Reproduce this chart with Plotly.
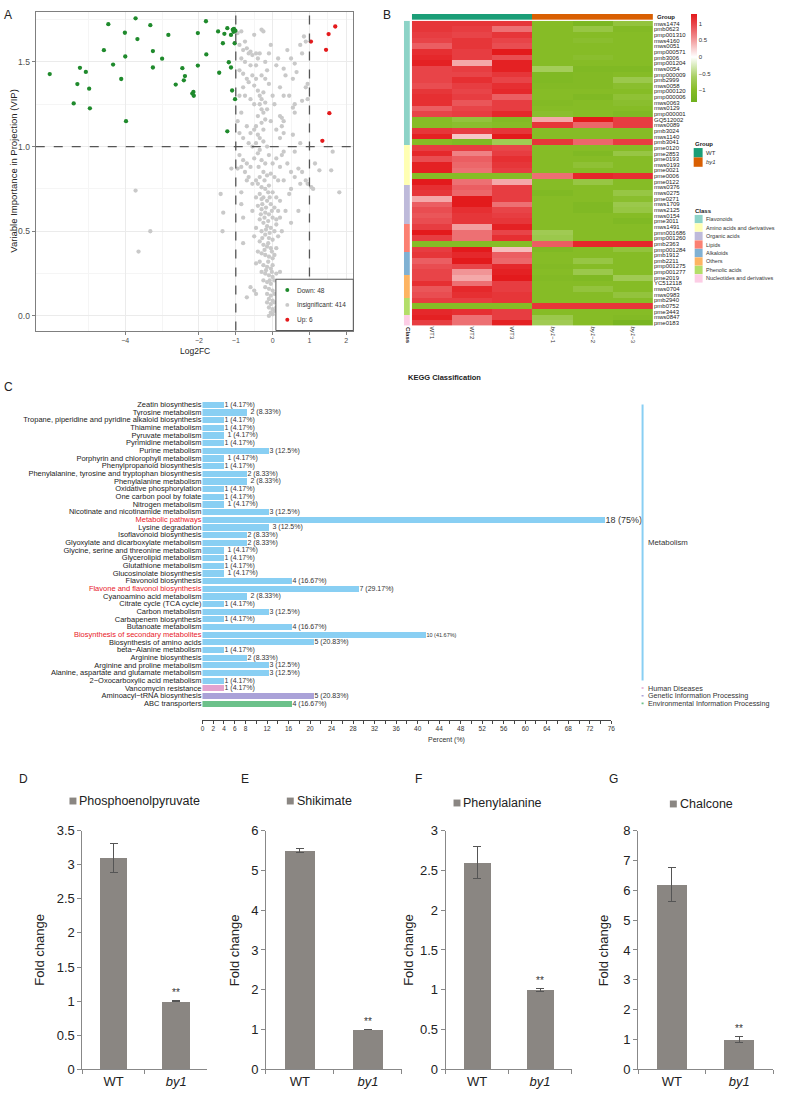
import plotly.graph_objects as go

W, H = 786, 1100
FONT = "Liberation Sans, Arial, sans-serif"


def px(x):
    return x / W


def py(y):
    return 1 - y / H


# ---------------- Panel A : volcano (VIP vs log2FC) ----------------
down_x = [-6.05, -5.40, -5.30, -5.23, -5.07, -4.98, -4.96, -4.58, -4.46, -4.33, -4.11, -4.01,
          -4.00, -3.98, -3.72, -3.67, -3.32, -3.25, -3.25, -3.00, -2.83, -2.63, -2.45, -2.41,
          -2.38, -2.18, -2.15, -2.14, -2.03, -2.03, -1.81, -1.80, -1.48, -1.45, -1.35, -1.31,
          -1.23, -1.23, -1.19, -1.13, -1.13, -1.10, -1.08, -1.06, -1.05, -1.03, -1.02, -1.01]
down_y = [1.428, 1.255, 1.369, 1.465, 1.441, 1.342, 1.226, 1.569, 1.723, 1.484, 1.399, 1.672,
          1.532, 1.150, 1.757, 1.635, 1.717, 1.467, 1.564, 1.519, 1.659, 1.366, 1.463, 1.391,
          1.416, 1.313, 1.323, 1.300, 1.670, 1.478, 1.740, 1.544, 1.680, 1.436, 1.610, 1.666,
          1.699, 1.090, 1.498, 1.467, 1.659, 1.331, 1.690, 1.678, 1.695, 1.610, 1.280, 1.684]
up_x = [1.04, 1.45, 1.52, 1.54, 1.35, 1.70]
up_y = [1.620, 1.571, 1.664, 1.197, 1.034, 1.709]
ns_points = [
    (-0.95, 1.67), (-0.85, 1.68), (-0.75, 1.62), (-0.5, 1.66), (-0.3, 1.69), (-0.25, 1.68),
    (-0.9, 1.60), (-0.8, 1.57), (-0.7, 1.58), (-0.65, 1.55), (-0.6, 1.56), (-0.55, 1.54),
    (-0.45, 1.55), (-0.4, 1.52), (-0.35, 1.55), (-0.2, 1.50), (-0.85, 1.52), (-0.75, 1.50),
    (-0.6, 1.48), (0.4, 1.57), (0.5, 1.52), (0.6, 1.49), (0.75, 1.60), (0.85, 1.65),
    (0.9, 1.62), (0.8, 1.55), (0.3, 1.46), (0.35, 1.42), (0.55, 1.40), (0.65, 1.44),
    (0.9, 1.35), (0.95, 1.37), (0.2, 1.35), (0.3, 1.30), (0.45, 1.30), (0.6, 1.25),
    (0.8, 1.27), (0.95, 1.28), (0.55, 1.23), (0.6, 1.20), (0.2, 1.18), (0.25, 1.17),
    (0.3, 1.15), (0.25, 1.12), (0.3, 1.08), (0.2, 1.05), (0.55, 1.07), (0.75, 1.02),
    (0.6, 0.97), (0.3, 0.97), (0.25, 0.95),
    (-0.9, 1.45), (-0.8, 1.43), (-0.7, 1.40), (-0.65, 1.38), (-0.55, 1.42), (-0.5, 1.36),
    (-0.45, 1.40), (-0.4, 1.33), (-0.35, 1.30), (-0.3, 1.28), (-0.25, 1.32), (-0.35, 1.25),
    (-0.3, 1.22), (-0.25, 1.20), (-0.4, 1.18), (-0.2, 1.16), (-0.3, 1.14), (-0.45, 1.12),
    (-0.5, 1.10), (-0.6, 1.08), (-0.7, 1.12), (-0.85, 1.20), (-0.9, 1.30), (-0.95, 1.15),
    (-0.9, 1.08), (-0.8, 1.05), (-0.65, 1.02), (-0.55, 1.00), (-0.45, 1.02), (-0.35, 1.05),
    (-0.25, 1.03), (-0.15, 1.00), (-0.2, 1.40), (-0.15, 1.45), (-0.1, 1.37), (-0.5, 1.25),
    (-0.6, 1.28), (-0.75, 1.30), (-0.8, 1.35), (-0.45, 1.48), (-0.3, 1.42), (-0.1, 1.55),
    (-0.05, 1.60), (0.1, 1.48), (0.15, 1.52), (0.0, 1.30), (0.05, 1.25), (-0.05, 1.15),
    (0.1, 1.10), (-0.2, 1.26), (-0.25, 1.10), (-0.35, 0.98), (-0.15, 1.22), (-0.4, 1.07),
    (-0.9, 0.95), (-0.8, 0.92), (-0.7, 0.90), (-0.6, 0.88), (-0.5, 0.93), (-0.4, 0.96),
    (-0.3, 0.92), (-0.2, 0.90), (-0.1, 0.95), (0.0, 0.90), (0.1, 0.93), (0.2, 0.88),
    (0.4, 0.90), (0.5, 0.85), (0.6, 0.82), (0.7, 0.87), (0.8, 0.85), (0.9, 0.80),
    (0.75, 0.78), (0.5, 0.75), (0.45, 0.72), (0.3, 0.80), (0.15, 0.80), (0.05, 0.82),
    (-0.05, 0.84), (-0.15, 0.83), (-0.25, 0.85), (-0.35, 0.82), (-0.45, 0.80), (-0.55, 0.78),
    (-0.65, 0.82), (-0.75, 0.85), (-0.85, 0.88), (-0.7, 0.80), (-0.4, 0.78), (-0.3, 0.76),
    (-0.2, 0.75), (-0.1, 0.77), (0.0, 0.73), (0.1, 0.70), (0.2, 0.68), (-0.35, 0.72),
    (-0.25, 0.70), (-0.15, 0.68), (-0.05, 0.66), (0.05, 0.64), (0.15, 0.62), (0.35, 0.62),
    (0.7, 0.62), (0.5, 0.55), (-0.4, 0.65), (-0.3, 0.63), (-0.2, 0.61), (-0.1, 0.60),
    (0.0, 0.58), (0.1, 0.57), (-0.35, 0.57), (-0.25, 0.55), (-0.15, 0.53), (-0.05, 0.52),
    (0.05, 0.50), (0.1, 0.54), (-0.45, 0.52), (-0.3, 0.50), (-0.2, 0.48), (-0.1, 0.46),
    (0.0, 0.45), (0.15, 0.47), (-0.5, 0.47), (-0.35, 0.44), (-0.25, 0.42), (-0.15, 0.41),
    (-0.05, 0.40), (0.1, 0.40), (-0.8, 0.43), (-0.4, 0.38), (-0.3, 0.37), (-0.2, 0.36),
    (-0.1, 0.35), (0.0, 0.34), (0.05, 0.36), (-0.28, 0.66), (-0.18, 0.64), (-0.08, 0.70),
    (-0.22, 0.58), (-0.12, 0.56), (-0.02, 0.62), (-0.32, 0.60), (-0.18, 0.51), (-0.08, 0.49),
    (-0.28, 0.46), (-0.12, 0.43), (-0.22, 0.39), (-0.02, 0.38), (-0.38, 0.88), (-0.22, 0.80),
    (-0.12, 0.73), (-0.3, 0.69), (-0.45, 0.70), (-0.55, 0.62), (0.2, 0.58), (0.25, 0.50),
    (-0.35, 0.32), (-0.25, 0.30), (-0.15, 0.29), (-0.05, 0.28), (0.0, 0.30), (-0.45, 0.31),
    (-0.3, 0.26), (-0.2, 0.25), (-0.1, 0.24), (0.0, 0.23), (0.1, 0.25), (0.2, 0.26),
    (-0.25, 0.21), (-0.15, 0.20), (-0.05, 0.19), (0.05, 0.21), (-0.2, 0.17), (-0.1, 0.16),
    (0.0, 0.15), (-0.6, 0.17), (-0.5, 0.15), (-0.45, 0.13), (-0.7, 0.11), (-0.15, 0.13),
    (-0.05, 0.12), (0.05, 0.13), (-0.1, 0.10), (0.0, 0.09), (-0.15, 0.08), (-0.05, 0.07),
    (0.05, 0.08), (-0.1, 0.05), (0.0, 0.04), (-0.05, 0.02), (0.05, 0.03), (0.0, 0.01),
    (-0.1, 0.00), (0.1, 0.05), (-0.12, 0.32), (-0.02, 0.26), (-0.08, 0.21), (-0.18, 0.27),
    (-3.72, 0.74), (-3.32, 0.50), (-3.64, 0.38), (-1.41, 0.72), (-1.34, 0.61), (-1.36, 0.50),
    (-1.12, 0.87), (1.81, 0.73), (1.63, 0.97), (1.59, 0.86), (1.27, 0.86), (1.15, 0.90),
    (1.05, 0.76), (1.10, 0.75), (0.95, 0.78), (-0.85, 0.73), (-0.95, 0.87), (-0.8, 0.58),
    (-0.85, 0.66),
]
ns_x = [p[0] for p in ns_points]
ns_y = [p[1] for p in ns_points]
legend_a = ["Down: 48", "Insignificant: 414", "Up: 6"]

# ---------------- Panel B : heatmap ----------------
row_names = ["mws1474", "pmb0623", "pmp001310", "mws4160", "mws0051", "pmp000571", "pmb3006",
             "pmp001204", "mws0054", "pmp000009", "pmb2999", "mws0058", "pmp000120", "pmp000006",
             "mws0063", "mws0129", "pmp000001", "GQ512002", "mws0089", "pmb3024", "mws1140",
             "pmb3041", "pme0120", "pme2853", "pme0193", "mws0193", "pme0021", "pme0006",
             "pme0122", "mws0376", "mws0275", "pme0271", "mws1709", "mws2125", "mws0154",
             "pme3011", "mws1491", "pmn001686", "pmp001260", "pmb2363", "pmp001284", "pmb1912",
             "pmb2211", "pmp001275", "pmp001277", "pme2019", "YC512118", "mws0704", "mws0983",
             "pmb2940", "pmb0752", "pme3443", "mws0847", "pme0183"]
col_names = ["WT1", "WT2", "WT3", "<i>by1</i>−1", "<i>by1</i>−2", "<i>by1</i>−3"]
col_group = [0, 0, 0, 1, 1, 1]
group_names = ["WT", "<i>by1</i>"]
group_colors = ["#1b9e77", "#d95f02"]
class_names = ["Flavonoids", "Amino acids and derivatives", "Organic acids", "Lipids",
               "Alkaloids", "Others", "Phenolic acids", "Nucleotides and derivatives"]
class_sizes = [22, 7, 7, 5, 4, 4, 3, 2]
class_colors = ["#8DD3C7", "#FFFFB3", "#BEBADA", "#FB8072", "#80B1D3", "#FDB462", "#B3DE69",
                "#FCCDE5"]
hm_values = [
    [1.10, 1.10, 1.10, -1.00, -1.15, -0.85],
    [1.10, 1.05, 0.75, -1.00, -0.80, -1.05],
    [1.05, 1.00, 1.10, -1.00, -1.00, -1.00],
    [1.00, 1.10, 1.00, -1.00, -0.95, -1.00],
    [0.85, 1.10, 0.95, -1.00, -1.00, -1.00],
    [1.15, 1.05, 1.30, -1.00, -1.00, -1.00],
    [1.20, 1.05, 0.95, -1.00, -0.95, -1.00],
    [1.25, 0.45, 1.25, -1.00, -1.00, -1.00],
    [1.00, 1.05, 1.25, -0.65, -1.10, -1.10],
    [1.00, 1.00, 1.10, -1.10, -1.05, -1.00],
    [1.00, 1.15, 1.00, -1.10, -1.05, -0.75],
    [0.95, 1.05, 1.15, -1.05, -1.05, -0.95],
    [1.10, 1.00, 1.20, -1.00, -1.00, -1.00],
    [1.15, 1.05, 0.85, -1.00, -1.10, -0.90],
    [1.15, 0.90, 1.05, -1.05, -1.00, -0.95],
    [0.85, 1.00, 1.05, -1.00, -1.00, -1.00],
    [1.00, 1.05, 1.20, -0.95, -1.00, -1.10],
    [-1.00, -0.85, -1.05, 0.45, 1.35, 1.05],
    [-1.00, -0.95, -1.00, 1.10, 0.80, 1.05],
    [1.10, 1.05, 1.10, -1.00, -1.00, -1.00],
    [1.25, 0.30, 1.30, -1.00, -1.00, -1.00],
    [-1.00, -1.10, -0.70, 1.10, 0.80, 1.05],
    [1.05, 1.05, 1.00, -1.00, -1.00, -1.00],
    [1.20, 0.65, 1.05, -1.00, -1.10, -0.80],
    [0.95, 0.85, 1.15, -1.00, -1.00, -1.00],
    [1.25, 0.80, 1.10, -1.00, -0.90, -1.00],
    [1.25, 0.75, 1.05, -1.00, -1.00, -1.00],
    [-1.00, -1.00, -1.00, 0.75, 1.20, 1.15],
    [1.35, 0.75, 0.45, -1.00, -0.80, -1.00],
    [1.15, 0.85, 1.05, -1.00, -1.00, -1.00],
    [1.10, 0.80, 1.05, -1.10, -1.00, -0.80],
    [0.45, 1.35, 1.05, -1.00, -1.00, -0.95],
    [0.85, 1.30, 0.75, -1.00, -1.10, -0.75],
    [0.95, 1.15, 1.00, -1.00, -1.10, -0.80],
    [0.90, 1.10, 1.05, -1.00, -1.00, -1.00],
    [0.95, 1.10, 1.10, -1.00, -1.00, -1.10],
    [1.05, 0.50, 1.25, -1.00, -1.00, -1.00],
    [1.30, 0.75, 1.00, -0.70, -1.00, -1.00],
    [1.05, 0.75, 1.15, -0.75, -1.00, -1.00],
    [-1.00, -1.00, -1.00, 0.85, 1.20, 1.20],
    [1.05, 1.35, 0.35, -1.10, -1.00, -0.85],
    [1.10, 1.20, 0.85, -1.00, -1.00, -1.00],
    [0.85, 1.40, 0.80, -1.00, -0.80, -1.00],
    [0.95, 1.00, 1.20, -1.05, -1.00, -1.00],
    [1.00, 0.55, 1.25, -1.00, -0.75, -1.00],
    [1.00, 0.45, 1.35, -1.05, -1.10, -0.70],
    [1.15, 0.75, 1.05, -1.00, -1.00, -1.00],
    [0.90, 1.20, 1.05, -1.00, -0.85, -1.00],
    [0.95, 1.15, 1.10, -1.00, -1.00, -0.85],
    [1.05, 1.05, 1.10, -1.00, -1.00, -1.00],
    [-1.00, -1.00, -1.00, 1.10, 1.10, 1.10],
    [1.20, 1.15, 1.05, -1.00, -1.00, -1.00],
    [1.25, 0.75, 1.05, -0.75, -1.00, -1.05],
    [1.05, 0.75, 1.25, -0.70, -1.00, -1.20],
]
cbar_ticks = [-1, -0.5, 0, 0.5, 1]

# ---------------- Panel C : KEGG classification ----------------
kegg_terms = [
    "Zeatin biosynthesis", "Tyrosine metabolism",
    "Tropane, piperidine and pyridine alkaloid biosynthesis", "Thiamine metabolism",
    "Pyruvate metabolism", "Pyrimidine metabolism", "Purine metabolism",
    "Porphyrin and chlorophyll metabolism", "Phenylpropanoid biosynthesis",
    "Phenylalanine, tyrosine and tryptophan biosynthesis", "Phenylalanine metabolism",
    "Oxidative phosphorylation", "One carbon pool by folate", "Nitrogen metabolism",
    "Nicotinate and nicotinamide metabolism", "Metabolic pathways", "Lysine degradation",
    "Isoflavonoid biosynthesis", "Glyoxylate and dicarboxylate metabolism",
    "Glycine, serine and threonine metabolism", "Glycerolipid metabolism",
    "Glutathione metabolism", "Glucosinolate biosynthesis", "Flavonoid biosynthesis",
    "Flavone and flavonol biosynthesis", "Cyanoamino acid metabolism",
    "Citrate cycle (TCA cycle)", "Carbon metabolism", "Carbapenem biosynthesis",
    "Butanoate metabolism", "Biosynthesis of secondary metabolites",
    "Biosynthesis of amino acids", "beta−Alanine metabolism", "Arginine biosynthesis",
    "Arginine and proline metabolism", "Alanine, aspartate and glutamate metabolism",
    "2−Oxocarboxylic acid metabolism", "Vancomycin resistance",
    "Aminoacyl−tRNA biosynthesis", "ABC transporters"]
kegg_counts = [1, 2, 1, 1, 1, 1, 3, 1, 1, 2, 2, 1, 1, 1, 3, 18, 3, 2, 2, 1, 1, 1, 1, 4, 7, 2, 1,
               3, 1, 4, 10, 5, 1, 2, 3, 3, 1, 1, 5, 4]
kegg_total = 24
kegg_class = ["Metabolism"] * 37 + ["Human Diseases", "Genetic Information Processing",
                                    "Environmental Information Processing"]
kegg_class_colors = {"Metabolism": "#89cff3", "Human Diseases": "#e3a3cf",
                     "Genetic Information Processing": "#aaa2d8",
                     "Environmental Information Processing": "#6cc18a"}
kegg_highlight = ["Metabolic pathways", "Flavone and flavonol biosynthesis",
                  "Biosynthesis of secondary metabolites"]
kegg_ticks = list(range(0, 77, 2))
kegg_ticklabels = [str(v) if (v <= 8 or v % 4 == 0) else "" for v in kegg_ticks]

# ---------------- Panels D-G : fold change bars ----------------
metabolites = ["Phosphoenolpyruvate", "Shikimate", "Phenylalanine", "Chalcone"]
genotypes = ["WT", "by1"]
genotype_labels = ["WT", "<i>by1</i>"]
fc_wt = [3.10, 5.50, 2.60, 6.20]
fc_wt_err = [0.21, 0.06, 0.20, 0.58]
fc_by1 = [1.00, 1.00, 1.00, 1.00]
fc_by1_err = [0.01, 0.01, 0.02, 0.10]
fc_ymax = [3.5, 6, 3, 8]
fc_dtick = [0.5, 1, 0.5, 1]
signif = ["**", "**", "**", "**"]

# =====================================================================
fig = go.Figure()
annotations = []
shapes = []


def note(text, x, y, size, color="#222222", xanchor="center", yanchor="middle", angle=0,
         xref="paper", yref="paper"):
    annotations.append(dict(text=text, x=x, y=y, xref=xref, yref=yref, xanchor=xanchor,
                            yanchor=yanchor, textangle=angle, showarrow=False, borderpad=0,
                            font=dict(size=size, color=color, family=FONT)))


# ---- Panel A traces
fig.add_trace(go.Scatter(x=ns_x, y=ns_y, mode="markers", xaxis="x", yaxis="y",
                         marker=dict(size=4.3, color="#c9c9c9"), showlegend=False,
                         hoverinfo="skip"))
fig.add_trace(go.Scatter(x=down_x, y=down_y, mode="markers", xaxis="x", yaxis="y",
                         marker=dict(size=4.3, color="#1f8a2c"), showlegend=False))
fig.add_trace(go.Scatter(x=up_x, y=up_y, mode="markers", xaxis="x", yaxis="y",
                         marker=dict(size=4.3, color="#e41a1c"), showlegend=False))
for xv in (-1, 1):
    shapes.append(dict(type="line", xref="x", yref="y domain", x0=xv, x1=xv, y0=0, y1=1,
                       line=dict(color="#555555", width=1.3, dash="dash")))
shapes.append(dict(type="line", xref="x domain", yref="y", x0=0, x1=1, y0=1, y1=1,
                   line=dict(color="#555555", width=1.3, dash="dash")))
shapes.append(dict(type="rect", xref="paper", yref="paper", x0=px(276), x1=px(354),
                   y0=py(328), y1=py(276), line=dict(color="#555555", width=1),
                   fillcolor="white", layer="above"))
for i, (lab, col) in enumerate(zip(legend_a, ["#1f8a2c", "#c9c9c9", "#e41a1c"])):
    yy = 287 + i * 15
    shapes.append(dict(type="circle", xref="paper", yref="paper", x0=px(285.5), x1=px(289.5),
                       y0=py(yy + 2), y1=py(yy - 2), line=dict(width=0), fillcolor=col,
                       layer="above"))
    note(lab, px(296), py(yy), 6.5, "#333333", xanchor="left")
note("Log2FC", px(194), py(349), 8.5)
note("Variable Importance in Projection (VIP)", px(12), py(166), 9.5, angle=-90)

# ---- Panel B traces
zmin, zmax = -1.36, 1.30


def pos(v):
    return (v - zmin) / (zmax - zmin)


hm_scale = [[0, "#6fb01e"], [pos(-1.0), "#86bc26"], [pos(-0.6), "#a8cf62"],
            [pos(-0.3), "#d3e8b0"], [pos(0), "#ffffff"], [pos(0.3), "#f7c6c6"],
            [pos(0.6), "#f08a8c"], [pos(1.0), "#e84448"], [1, "#e31a1c"]]
fig.add_trace(go.Heatmap(
    z=hm_values, x=list(range(len(col_names))), y=list(range(len(row_names))),
    xaxis="x2", yaxis="y2", colorscale=hm_scale, zmin=zmin, zmax=zmax,
    colorbar=dict(x=px(694), xanchor="left", y=py(7), yanchor="top", len=88,
                  lenmode="pixels", thickness=6, thicknessmode="pixels",
                  tickvals=cbar_ticks, ticktext=["−1", "−0.5", "0", "0.5", "1"], ticks="",
                  tickfont=dict(size=6, color="#333333", family=FONT), outlinewidth=0,
                  xpad=0, ypad=0)))
row_class = []
for ci, n in enumerate(class_sizes):
    row_class += [ci] * n
nc = len(class_colors)
class_scale = []
for ci, c in enumerate(class_colors):
    class_scale += [[ci / nc, c], [(ci + 1) / nc, c]]
fig.add_trace(go.Heatmap(z=[[c] for c in row_class], x=[0], y=list(range(len(row_names))),
                         xaxis="x3", yaxis="y2", colorscale=class_scale, zmin=-0.5,
                         zmax=nc - 0.5, showscale=False))
fig.add_trace(go.Heatmap(z=[col_group], x=list(range(len(col_names))), y=[0], xaxis="x2",
                         yaxis="y3",
                         colorscale=[[0, group_colors[0]], [0.5, group_colors[0]],
                                     [0.5, group_colors[1]], [1, group_colors[1]]],
                         zmin=0, zmax=1, showscale=False))
note("<b>Group</b>", px(659), py(10), 6, xanchor="left")
note("<b>Class</b>", px(408.5), py(333), 6, angle=90)
note("<b>Group</b>", px(697), py(139), 6, xanchor="left")
for i, (g, c) in enumerate(zip(group_names, group_colors)):
    y0 = 143 + i * 9.5
    shapes.append(dict(type="rect", xref="paper", yref="paper", x0=px(697), x1=px(706),
                       y0=py(y0 + 9.5), y1=py(y0), line=dict(width=0), fillcolor=c))
    note(g, px(708), py(y0 + 4.75), 6, "#333333", xanchor="left")
note("<b>Class</b>", px(697), py(207), 6, xanchor="left")
for i, (cn, c) in enumerate(zip(class_names, class_colors)):
    yc = 215 + i * 8.6
    shapes.append(dict(type="rect", xref="paper", yref="paper", x0=px(698), x1=px(706),
                       y0=py(yc + 4.2), y1=py(yc - 4.2), line=dict(width=0), fillcolor=c))
    note(cn, px(708), py(yc), 5.5, "#333333", xanchor="left")

# ---- Panel C traces
kegg_pct = [c / kegg_total * 100 for c in kegg_counts]


def fmt(p):
    return ("%.2f" % p).rstrip("0").rstrip(".")


kegg_text = ["%d (%s%%)" % (c, fmt(p)) for c, p in zip(kegg_counts, kegg_pct)]
kegg_text_size = [9 if c == max(kegg_counts) else (5.5 if c == 10 else 7) for c in kegg_counts]
fig.add_trace(go.Bar(
    x=kegg_pct, y=list(range(len(kegg_terms))), orientation="h", xaxis="x4", yaxis="y4",
    marker=dict(color=[kegg_class_colors[k] for k in kegg_class], line=dict(width=0)),
    width=0.8, text=kegg_text, textposition="outside", textangle=0, constraintext="none",
    cliponaxis=False, textfont=dict(size=kegg_text_size, color="#333333", family=FONT),
    showlegend=False))
kegg_ticktext = [("<span style='color:#e8202a'>%s</span>" % t) if t in kegg_highlight else t
                 for t in kegg_terms]
note("<b>KEGG Classification</b>", px(446), py(376), 7.5)
note("Percent (%)", px(448), py(743), 7, "#333333")
groups_c = []
for i, k in enumerate(kegg_class):
    if not groups_c or groups_c[-1][0] != k:
        groups_c.append([k, i, i])
    else:
        groups_c[-1][2] = i
for k, i0, i1 in groups_c:
    shapes.append(dict(type="line", xref="paper", yref="y4", x0=px(645.5), x1=px(645.5),
                       y0=i0 - (0.1 if i0 == i1 else 0), y1=i1 + (0.1 if i0 == i1 else 0),
                       line=dict(color=kegg_class_colors[k], width=2)))
    note(k, px(650), (i0 + i1) / 2, 7.8 if k == "Metabolism" else 7.2, "#333333",
         xanchor="left", yref="y4")

# ---- Panels D-G
letters_fg = ["D", "E", "F", "G"]
ax_left = [81, 266, 447, 641]
ax_right = [207, 403, 574, 777]
ytitle_x = [38, 235, 410, 607]
letter_x = [22, 245, 420, 616]
leg_sq_x = [68, 287, 455, 673]
leg_y = [805, 805, 807, 808]
for k in range(4):
    xa = "x%d" % (5 + k)
    ya = "y%d" % (5 + k)
    fig.add_trace(go.Bar(
        x=genotypes, y=[fc_wt[k], fc_by1[k]], xaxis=xa, yaxis=ya, width=0.44,
        marker=dict(color="#8a8682", line=dict(width=0)),
        error_y=dict(type="data", array=[fc_wt_err[k], fc_by1_err[k]], color="#555555",
                     thickness=1, width=4),
        showlegend=False))
    note(signif[k], "by1", fc_by1[k] + fc_by1_err[k], 10, "#333333", yanchor="bottom",
         xref=xa, yref=ya)
    annotations[-1]["yshift"] = 1
    note("Fold change", px(ytitle_x[k]), py(956), 13, angle=-90)
    note(letters_fg[k], px(letter_x[k]), py(783), 12)
    shapes.append(dict(type="rect", xref="paper", yref="paper", x0=px(leg_sq_x[k]),
                       x1=px(leg_sq_x[k] + 7), y0=py(leg_y[k] + 3.5), y1=py(leg_y[k] - 3.5),
                       line=dict(width=0), fillcolor="#8a8682"))
    note(metabolites[k], px(leg_sq_x[k] + 9), py(leg_y[k]), 12.5, xanchor="left")

for lt, (lx, ly) in {"A": (6, 8), "B": (388, 8), "C": (7, 385)}.items():
    note(lt, px(lx), py(ly), 12)

layout = dict(
    width=W, height=H, margin=dict(l=0, r=0, t=0, b=0), paper_bgcolor="white",
    plot_bgcolor="white", font=dict(family=FONT, color="#222"), showlegend=False,
    bargap=0,
    xaxis=dict(domain=[px(34), px(354)], range=[-6.43, 2.19], tickvals=[-4, -2, -1, 0, 1, 2],
               anchor="y", showgrid=True, gridcolor="#ebebeb", gridwidth=1,
               minor=dict(tickvals=[-5, -3, -1.5, -0.5, 0.5, 1.5], showgrid=True,
                          gridcolor="#f5f5f5", gridwidth=0.6),
               showline=True, mirror=True, linecolor="#7f7f7f", linewidth=1.2,
               ticks="outside", ticklen=3, tickcolor="#7f7f7f", zeroline=False,
               tickfont=dict(size=7, color="#4d4d4d")),
    yaxis=dict(domain=[py(328), py(5)], range=[-0.086, 1.795], dtick=0.5, tick0=0,
               tickformat=".1f", anchor="x", showgrid=True, gridcolor="#ebebeb",
               minor=dict(dtick=0.25, tick0=0, showgrid=True, gridcolor="#f5f5f5",
                          gridwidth=0.6),
               showline=True, mirror=True, linecolor="#7f7f7f", linewidth=1.2,
               ticks="outside", ticklen=3, tickcolor="#7f7f7f", zeroline=False,
               tickfont=dict(size=8.5, color="#4d4d4d")),
    xaxis2=dict(domain=[px(413), px(656)], range=[-0.5, 5.5], anchor="y2",
                tickvals=list(range(len(col_names))), ticktext=col_names, tickangle=90,
                ticks="", showgrid=False, zeroline=False, showline=False,
                tickfont=dict(size=6, color="#333")),
    yaxis2=dict(domain=[py(323), py(14)], range=[len(row_names) - 0.5, -0.5], anchor="x2",
                side="right", tickvals=list(range(len(row_names))), ticktext=row_names,
                ticks="", showgrid=False, zeroline=False, showline=False,
                tickfont=dict(size=6, color="#222")),
    xaxis3=dict(domain=[px(405), px(411)], range=[-0.5, 0.5], anchor="y2", visible=False),
    yaxis3=dict(domain=[py(13), py(7)], range=[-0.5, 0.5], anchor="x2", visible=False),
    xaxis4=dict(domain=[px(202), px(614)], range=[0, 76], anchor="free", position=py(723),
                tickvals=kegg_ticks, ticktext=kegg_ticklabels, ticks="outside", ticklen=2.5,
                tickcolor="#444", showline=True, linecolor="#444", linewidth=0.8,
                showgrid=False, zeroline=False, tickfont=dict(size=6.5, color="#333")),
    yaxis4=dict(domain=[py(709.9), py(399.1)], range=[len(kegg_terms) - 0.5, -0.5],
                anchor="x4", tickvals=list(range(len(kegg_terms))), ticktext=kegg_ticktext,
                ticks="", showgrid=False, zeroline=False, showline=False,
                tickfont=dict(size=7.5, color="#222")),
    annotations=annotations, shapes=shapes,
)
for k in range(4):
    layout["xaxis%d" % (5 + k)] = dict(
        domain=[px(ax_left[k]), px(ax_right[k])], anchor="y%d" % (5 + k), type="category",
        tickvals=genotypes, ticktext=genotype_labels, tickson="boundaries", ticks="outside",
        ticklen=4, tickcolor="#888", showline=True, linecolor="#888", linewidth=1,
        showgrid=False, zeroline=False, tickfont=dict(size=13, color="#222"))
    layout["yaxis%d" % (5 + k)] = dict(
        domain=[py(1077), py(835)], anchor="x%d" % (5 + k), range=[0, fc_ymax[k]],
        dtick=fc_dtick[k], ticks="outside", ticklen=4, tickcolor="#888", showline=True,
        linecolor="#888", linewidth=1, showgrid=False, zeroline=False,
        tickfont=dict(size=13, color="#222"))

fig.update_layout(**layout)
fig.write_html("out.html", config={"displayModeBar": False},
               post_script="document.body.style.margin='0px';"
                           "document.body.style.overflow='hidden';")
